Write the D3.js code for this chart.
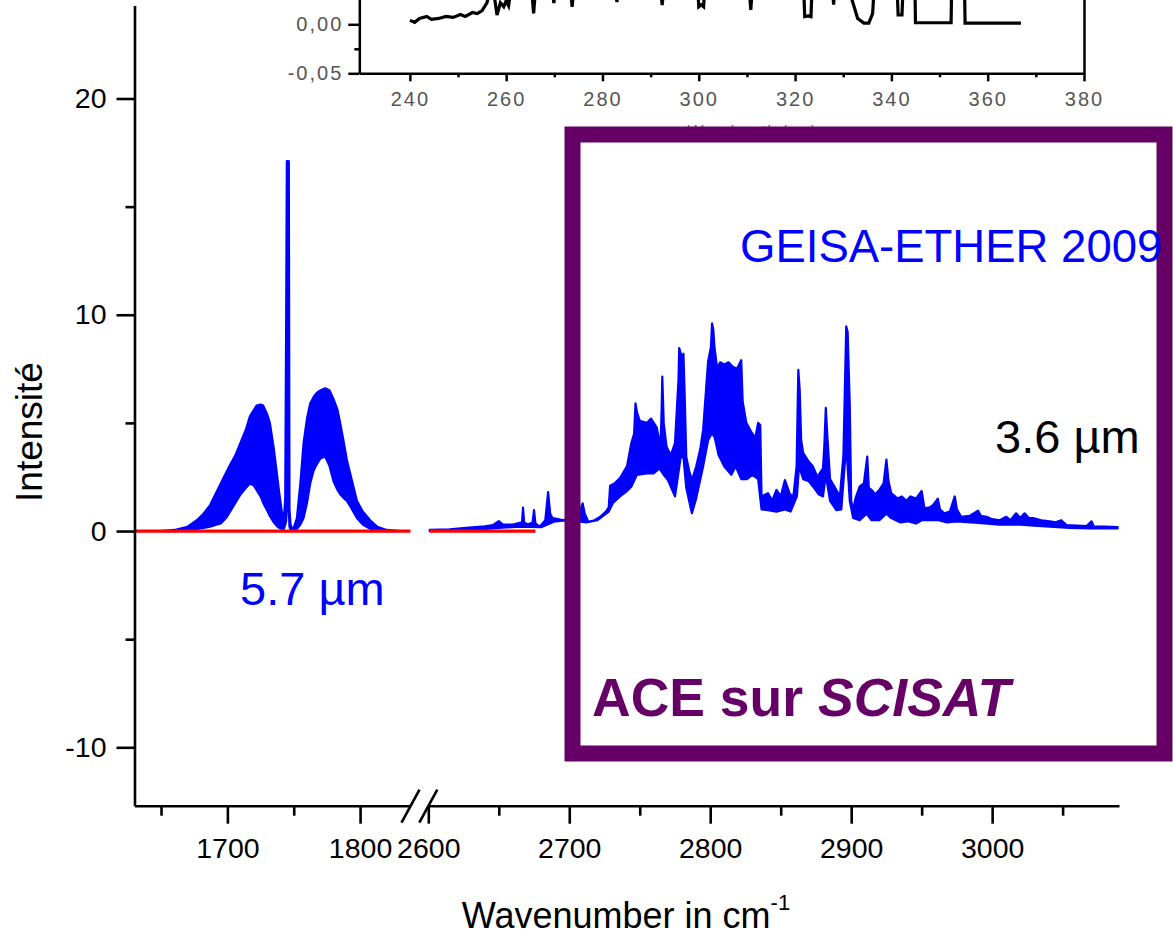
<!DOCTYPE html>
<html>
<head>
<meta charset="utf-8">
<script src="https://cdn.jsdelivr.net/npm/d3@7"></script>
<style>
  body { margin: 0; background: #fff; }
  svg { display: block; font-family: "Liberation Sans", Arial, sans-serif; }
</style>
</head>
<body>
<div id="chart"></div>
<script>
// 5.7 um band (left part of the broken axis): wavenumber, upper and lower envelope
var leftNu = [1650, 1660, 1670, 1677, 1682, 1687, 1691, 1695, 1699, 1702, 1706, 1710, 1714, 1717, 1720, 1722, 1725, 1727, 1730, 1732, 1735, 1737, 1739, 1741, 1742.5, 1743.6, 1744.3, 1744.8, 1746.3, 1746.8, 1747.6, 1748.5, 1750, 1752.4, 1755, 1757.4, 1760, 1762.4, 1765, 1767.5, 1770, 1773.7, 1777, 1780, 1783, 1785, 1788, 1790, 1794, 1797.6, 1802, 1807.6, 1813, 1820, 1830];
var leftUpper = [0, 0.05, 0.2, 0.5, 0.8, 1.2, 1.7, 2.2, 2.7, 3.05, 3.5, 4.1, 4.7, 5.3, 5.6, 5.8, 5.85, 5.8, 5.4, 5.0, 3.8, 2.8, 1.8, 0.9, 0.5, 1.5, 9.9, 17.1, 17.1, 1.0, 0.3, 0.15, 0.15, 0.6, 2.2, 4.06, 5.2, 5.9, 6.2, 6.4, 6.5, 6.6, 6.5, 6.1, 5.6, 5.0, 4.0, 3.3, 2.3, 1.4, 0.9, 0.5, 0.2, 0.05, 0];
var leftLower = [0, 0, 0.02, 0.1, 0.15, 0.2, 0.28, 0.35, 0.6, 0.9, 1.3, 1.7, 2.0, 2.2, 2.1, 1.9, 1.6, 1.3, 0.95, 0.7, 0.4, 0.25, 0.15, 0.1, 0.1, 0.3, 0.5, 1.0, 1.0, 0.2, 0.05, 0.02, 0, 0.1, 0.3, 0.6, 1.3, 2.2, 2.8, 3.1, 3.35, 3.45, 3.0, 2.3, 1.9, 1.7, 1.5, 1.4, 1.0, 0.6, 0.3, 0.1, 0.03, 0, 0];

// 3.6 um band (right part of the broken axis): upper envelope
var rightUpNu = [2601, 2615, 2627, 2640, 2646, 2650, 2653, 2660, 2666.5, 2667.2, 2668, 2670.5, 2674, 2675, 2676, 2679, 2683, 2685, 2686.5, 2688, 2692, 2695.7, 2700, 2704, 2708, 2709.5, 2711, 2713.5, 2718, 2722, 2726, 2728, 2729, 2732, 2736, 2738, 2741, 2744, 2746, 2747, 2748, 2750, 2755, 2758, 2762, 2764.7, 2765.5, 2766, 2767, 2769, 2772, 2775, 2777.5, 2778, 2780, 2781, 2782, 2783, 2785, 2787, 2790, 2793, 2795, 2797, 2798.5, 2800.5, 2801.3, 2802.2, 2803, 2805, 2807, 2810, 2813, 2816, 2819, 2822, 2823, 2825.6, 2829, 2832, 2834, 2835.5, 2836.4, 2841, 2844, 2847, 2850, 2853, 2856.6, 2859, 2861.3, 2862.5, 2863.5, 2864.5, 2866, 2870, 2873, 2876, 2880, 2881, 2882, 2883, 2885, 2889.5, 2892, 2894.5, 2895.4, 2896.5, 2897.5, 2899, 2900, 2901.4, 2903, 2906, 2909, 2911.4, 2912.5, 2914.5, 2917, 2920, 2923, 2925, 2926.5, 2928.4, 2933, 2936, 2939, 2942, 2946, 2950, 2952, 2956, 2958, 2961.5, 2963, 2966, 2970, 2973.5, 2975, 2978, 2984, 2990, 2992, 2996, 3000, 3005.4, 3010, 3013, 3017, 3020, 3023, 3026, 3029, 3035, 3041, 3045, 3049, 3052.8, 3060, 3067, 3070.5, 3072, 3074, 3080, 3089];
var rightUp = [0.05, 0.08, 0.15, 0.22, 0.28, 0.46, 0.3, 0.3, 0.4, 1.08, 0.4, 0.3, 0.4, 0.97, 0.35, 0.2, 0.5, 1.8, 0.8, 0.6, 0.55, 0.5, 0.6, 0.8, 1.0, 1.28, 0.8, 0.43, 0.5, 0.66, 0.9, 1.1, 2.1, 2.2, 2.45, 2.67, 3.0, 4.06, 4.5, 5.9, 5.5, 5.1, 5.0, 5.2, 4.8, 3.9, 5.5, 7.14, 5.0, 3.9, 3.5, 4.06, 7.0, 8.46, 8.0, 8.2, 6.0, 3.44, 2.8, 2.36, 2.97, 3.8, 4.7, 6.5, 7.84, 8.5, 9.6, 9.3, 8.5, 7.5, 7.8, 7.7, 7.8, 7.6, 7.5, 7.9, 6.0, 5.0, 4.6, 4.3, 5.0, 4.9, 1.6, 1.75, 1.4, 1.9, 1.6, 2.36, 1.7, 1.6, 3.0, 7.45, 6.5, 4.2, 3.6, 3.2, 2.97, 2.5, 2.9, 4.0, 5.7, 4.5, 2.4, 1.9, 1.6, 3.5, 6.2, 9.46, 9.2, 5.8, 1.4, 0.97, 1.5, 2.05, 2.2, 3.44, 2.0, 1.9, 1.7, 1.9, 2.2, 3.3, 2.3, 1.75, 1.5, 1.6, 1.4, 1.6, 1.5, 1.85, 1.05, 1.1, 1.2, 1.5, 1.0, 0.82, 0.9, 1.6, 1.0, 0.66, 0.7, 0.94, 0.7, 0.66, 0.55, 0.5, 0.66, 0.5, 0.82, 0.6, 0.82, 0.6, 0.6, 0.5, 0.45, 0.4, 0.5, 0.28, 0.25, 0.23, 0.45, 0.22, 0.2, 0.2, 0.18];

// 3.6 um band: lower envelope
var rightLowNu = [2601, 2630, 2650, 2665, 2680, 2690, 2700, 2712, 2720, 2728, 2731, 2736, 2740, 2744, 2748, 2755, 2760, 2764, 2767, 2770, 2775, 2777, 2779, 2781, 2783, 2787, 2790, 2793, 2795, 2798.5, 2801, 2803, 2806, 2810, 2815, 2818, 2822, 2826, 2830, 2834, 2836.4, 2841, 2847, 2853, 2857, 2861.5, 2863, 2866, 2870, 2873, 2877, 2880, 2882, 2885, 2889.5, 2893, 2896.5, 2899, 2901.4, 2906, 2911, 2914.5, 2920, 2925, 2928.4, 2935, 2940, 2946, 2950, 2956, 2962, 2968, 2975, 2985, 2995, 3005, 3020, 3030, 3041, 3055, 3070, 3089];
var rightLow = [0, 0.05, 0.15, 0.2, 0.18, 0.45, 0.5, 0.4, 0.5, 0.9, 1.3, 1.6, 1.8, 2.05, 2.6, 2.67, 2.67, 2.9, 2.6, 2.36, 1.6, 2.5, 3.4, 3.44, 2.0, 0.82, 1.5, 2.4, 3.0, 4.2, 4.5, 4.37, 3.5, 2.98, 2.6, 3.0, 2.4, 2.4, 2.6, 2.4, 1.0, 0.97, 0.9, 1.0, 0.9, 1.6, 3.0, 2.4, 2.3, 2.05, 1.7, 1.6, 2.6, 1.4, 0.97, 1.0, 4.0, 1.4, 0.6, 0.5, 0.8, 0.5, 0.5, 0.8, 0.6, 0.4, 0.45, 0.35, 0.5, 0.5, 0.5, 0.4, 0.45, 0.4, 0.35, 0.3, 0.3, 0.25, 0.2, 0.15, 0.12, 0.12];

// red zero lines
var zeroLeft = [1630, 1838];
var zeroRight = [2601, 2676];

// ticks
var yTicks = [-10, 0, 10, 20];
var yMinor = [-5, 5, 15];
var xTicksLeft = [1700, 1800];
var xMinorLeft = [1650, 1750];
var xTicksRight = [2600, 2700, 2800, 2900, 3000];
var xMinorRight = [2650, 2750, 2850, 2950, 3050];

// inset (UV spectrum, mostly cut off at the top of the page)
var insetNm = [240, 241, 242, 243.5, 244.5, 246, 247.5, 249, 250.5, 251.5,
    253, 254, 255, 256, 256.8, 257.5, 258.1, 258.8, 259.5, 260,
    260.5, 261, 265.3, 265.7, 266.1, 269.6, 269.9, 270.2, 273.4, 273.7,
    274, 282.7, 283, 283.3, 292.1, 292.4, 292.7, 299.8, 300, 300.5,
    301, 301.2, 310.5, 310.8, 311.1, 321.8, 322, 322.8, 323.3, 323.5,
    327.8, 328, 328.2, 331.2, 333, 334.3, 335.3, 336.1, 336.4, 341.2,
    341.4, 342.2, 342.4, 344.9, 345, 352.4, 352.5, 355.2, 355.3, 366.9];
var insetVal = [0.004, 0.002, 0.006, 0.008, 0.005, 0.006, 0.008, 0.007, 0.01, 0.008,
    0.012, 0.011, 0.014, 0.022, 0.035, 0.03, 0.0095, 0.022, 0.018, 0.024,
    0.019, 0.035, 0.035, 0.0112, 0.035, 0.035, 0.0217, 0.035, 0.035, 0.0177,
    0.035, 0.035, 0.0228, 0.035, 0.035, 0.0197, 0.035, 0.035, 0.018, 0.02,
    0.018, 0.035, 0.035, 0.0146, 0.035, 0.035, 0.0078, 0.0085, 0.0078, 0.035,
    0.035, 0.02, 0.035, 0.035, 0.006, 0.0013, 0.0013, 0.011, 0.035, 0.035,
    0.0095, 0.0095, 0.035, 0.035, 0.0016, 0.0016, 0.035, 0.035, 0.0012, 0.0012];
var insetXTicks = [240, 260, 280, 300, 320, 340, 360, 380];
var insetXMinor = [250, 270, 290, 310, 330, 350, 370];
var insetYTicks = [-0.05, 0];
var insetYMinor = [-0.025];

var w = 1173, h = 937;

var svg = d3.select("#chart").append("svg")
    .attr("width", w)
    .attr("height", h);

// broken x axis: two linear pieces
var xL = d3.scaleLinear().domain([1630, 1838]).range([134.5, 410.5]);
var xR = d3.scaleLinear().domain([2600, 3090]).range([428.3, 1119]);
var y = d3.scaleLinear().domain([-12.7, 24.3]).range([805.7, 5.5]);

// inset scales
var xi = d3.scaleLinear().domain([229.5, 380]).range([359.3, 1084]);
var yi = d3.scaleLinear().domain([-0.05, 0.05]).range([73.3, -24.7]);

function zip(a, b) {
    return a.map(function(d, i) { return [d, b[i]]; });
}

// ---- inset ----
var inset = svg.append("g");

inset.append("path")
    .datum(zip(insetNm, insetVal))
    .attr("d", d3.line().x(function(d) { return xi(d[0]); }).y(function(d) { return yi(d[1]); }))
    .style("fill", "none")
    .style("stroke", "#000")
    .style("stroke-width", 3.2)
    .style("stroke-linejoin", "miter");

// hidden inset title (mostly covered by the purple frame)
inset.append("text")
    .attr("x", 752)
    .attr("y", 137)
    .attr("text-anchor", "middle")
    .style("font-size", "17px")
    .style("fill", "#777")
    .text("Wavelength (nm)");

var commaFmt = function(d) { return d.toFixed(2).replace(".", ","); };

inset.append("g")
    .attr("transform", "translate(359.3,0)")
    .call(d3.axisLeft(yi).tickValues(insetYTicks).tickSize(11).tickSizeOuter(0).tickPadding(5).tickFormat(commaFmt));
inset.append("g")
    .attr("transform", "translate(359.3,0)")
    .call(d3.axisLeft(yi).tickValues(insetYMinor).tickSize(5).tickFormat(""))
    .select(".domain").remove();
inset.append("g")
    .attr("transform", "translate(0,73.3)")
    .call(d3.axisBottom(xi).tickValues(insetXTicks).tickSize(8).tickSizeOuter(0).tickPadding(11).tickFormat(function(d) { return String(d); }));
inset.append("g")
    .attr("transform", "translate(0,73.3)")
    .call(d3.axisBottom(xi).tickValues(insetXMinor).tickSize(4).tickFormat(""))
    .select(".domain").remove();
inset.append("g")
    .attr("transform", "translate(1084,0)")
    .call(d3.axisRight(yi).tickValues([]).tickSizeOuter(0));

inset.selectAll(".domain, .tick line").style("stroke", "#000").style("stroke-width", 2.5);
inset.selectAll(".tick text")
    .style("font-family", "'Liberation Sans', Arial, sans-serif")
    .style("font-size", "20px")
    .style("letter-spacing", "2px")
    .style("fill", "#555");

// ---- main spectrum ----
var plot = svg.append("g");

function bandPolygon(nuUp, up, nuLow, low) {
    var top = zip(nuUp, up);
    var bottom = zip(nuLow, low).reverse();
    return top.concat(bottom);
}

var lineL = d3.line().x(function(d) { return xL(d[0]); }).y(function(d) { return y(d[1]); });
var lineR = d3.line().x(function(d) { return xR(d[0]); }).y(function(d) { return y(d[1]); });

plot.append("path")
    .datum(bandPolygon(leftNu, leftUpper, leftNu, leftLower))
    .attr("d", function(d) { return lineL(d) + "Z"; })
    .style("fill", "#0000ff")
    .style("stroke", "#0000ff")
    .style("stroke-width", 2.2)
    .style("stroke-linejoin", "round");

plot.append("path")
    .datum(bandPolygon(rightUpNu, rightUp, rightLowNu, rightLow))
    .attr("d", function(d) { return lineR(d) + "Z"; })
    .style("fill", "#0000ff")
    .style("stroke", "#0000ff")
    .style("stroke-width", 2.2)
    .style("stroke-linejoin", "round");

// red zero lines
plot.append("path")
    .datum(zeroLeft.map(function(d) { return [d, 0]; }))
    .attr("d", lineL)
    .style("stroke", "#ff0000")
    .style("stroke-width", 3.3);
plot.append("path")
    .datum(zeroRight.map(function(d) { return [d, 0]; }))
    .attr("d", lineR)
    .style("stroke", "#ff0000")
    .style("stroke-width", 3.3);

// ---- axes ----
var axes = svg.append("g");
var plain = function(d) { return String(d); };

axes.append("g")
    .attr("transform", "translate(134.5,0)")
    .call(d3.axisLeft(y).tickValues(yTicks).tickSize(18).tickSizeOuter(0).tickPadding(10).tickFormat(plain));
axes.append("g")
    .attr("transform", "translate(134.5,0)")
    .call(d3.axisLeft(y).tickValues(yMinor).tickSize(9).tickFormat(""))
    .select(".domain").remove();

axes.append("g")
    .attr("transform", "translate(0,805.7)")
    .call(d3.axisBottom(xL).tickValues(xTicksLeft).tickSize(18).tickSizeOuter(0).tickPadding(14).tickFormat(plain));
axes.append("g")
    .attr("transform", "translate(0,805.7)")
    .call(d3.axisBottom(xL).tickValues(xMinorLeft).tickSize(10).tickFormat(""))
    .select(".domain").remove();
axes.append("g")
    .attr("transform", "translate(0,805.7)")
    .call(d3.axisBottom(xR).tickValues(xTicksRight).tickSize(18).tickSizeOuter(0).tickPadding(14).tickFormat(plain));
axes.append("g")
    .attr("transform", "translate(0,805.7)")
    .call(d3.axisBottom(xR).tickValues(xMinorRight).tickSize(10).tickFormat(""))
    .select(".domain").remove();

axes.selectAll(".domain, .tick line").style("stroke", "#000").style("stroke-width", 2.6);
axes.selectAll(".tick text")
    .style("font-family", "'Liberation Sans', Arial, sans-serif")
    .style("font-size", "28.5px")
    .style("fill", "#000");

// axis break marks
var breaks = [xL(1838), xR(2600)];
axes.selectAll(".brk")
    .data(breaks)
    .enter()
    .append("line")
    .attr("class", "brk")
    .attr("x1", function(d) { return d - 9; })
    .attr("y1", 805.7 + 17)
    .attr("x2", function(d) { return d + 9; })
    .attr("y2", 805.7 - 16)
    .style("stroke", "#000")
    .style("stroke-width", 2.6);

// axis titles
svg.append("text")
    .attr("transform", "translate(42,432)rotate(-90)")
    .attr("text-anchor", "middle")
    .style("font-size", "37px")
    .text("Intensité");

var xt = svg.append("text")
    .attr("x", 626)
    .attr("y", 928)
    .attr("text-anchor", "middle")
    .style("font-size", "36px");
xt.append("tspan").text("Wavenumber in cm");
xt.append("tspan").attr("dy", -18).style("font-size", "22px").text("-1");

// purple frame
svg.append("rect")
    .attr("x", 572.5)
    .attr("y", 134.5)
    .attr("width", 592)
    .attr("height", 619)
    .style("fill", "none")
    .style("stroke", "#660066")
    .style("stroke-width", 16);

// annotations
svg.append("text")
    .attr("x", 240)
    .attr("y", 605)
    .style("font-size", "47px")
    .style("fill", "#0000ff")
    .text("5.7 µm");

svg.append("text")
    .attr("x", 995)
    .attr("y", 453)
    .style("font-size", "47px")
    .style("fill", "#000")
    .text("3.6 µm");

svg.append("text")
    .attr("x", 740)
    .attr("y", 262)
    .style("font-size", "45.5px")
    .style("fill", "#0000ff")
    .text("GEISA-ETHER 2009");

var ace = svg.append("text")
    .attr("x", 592)
    .attr("y", 716)
    .style("font-size", "53.5px")
    .style("font-weight", "bold")
    .style("fill", "#660066");
ace.append("tspan").text("ACE sur ");
ace.append("tspan").style("font-style", "italic").text("SCISAT");
</script>
</body>
</html>
